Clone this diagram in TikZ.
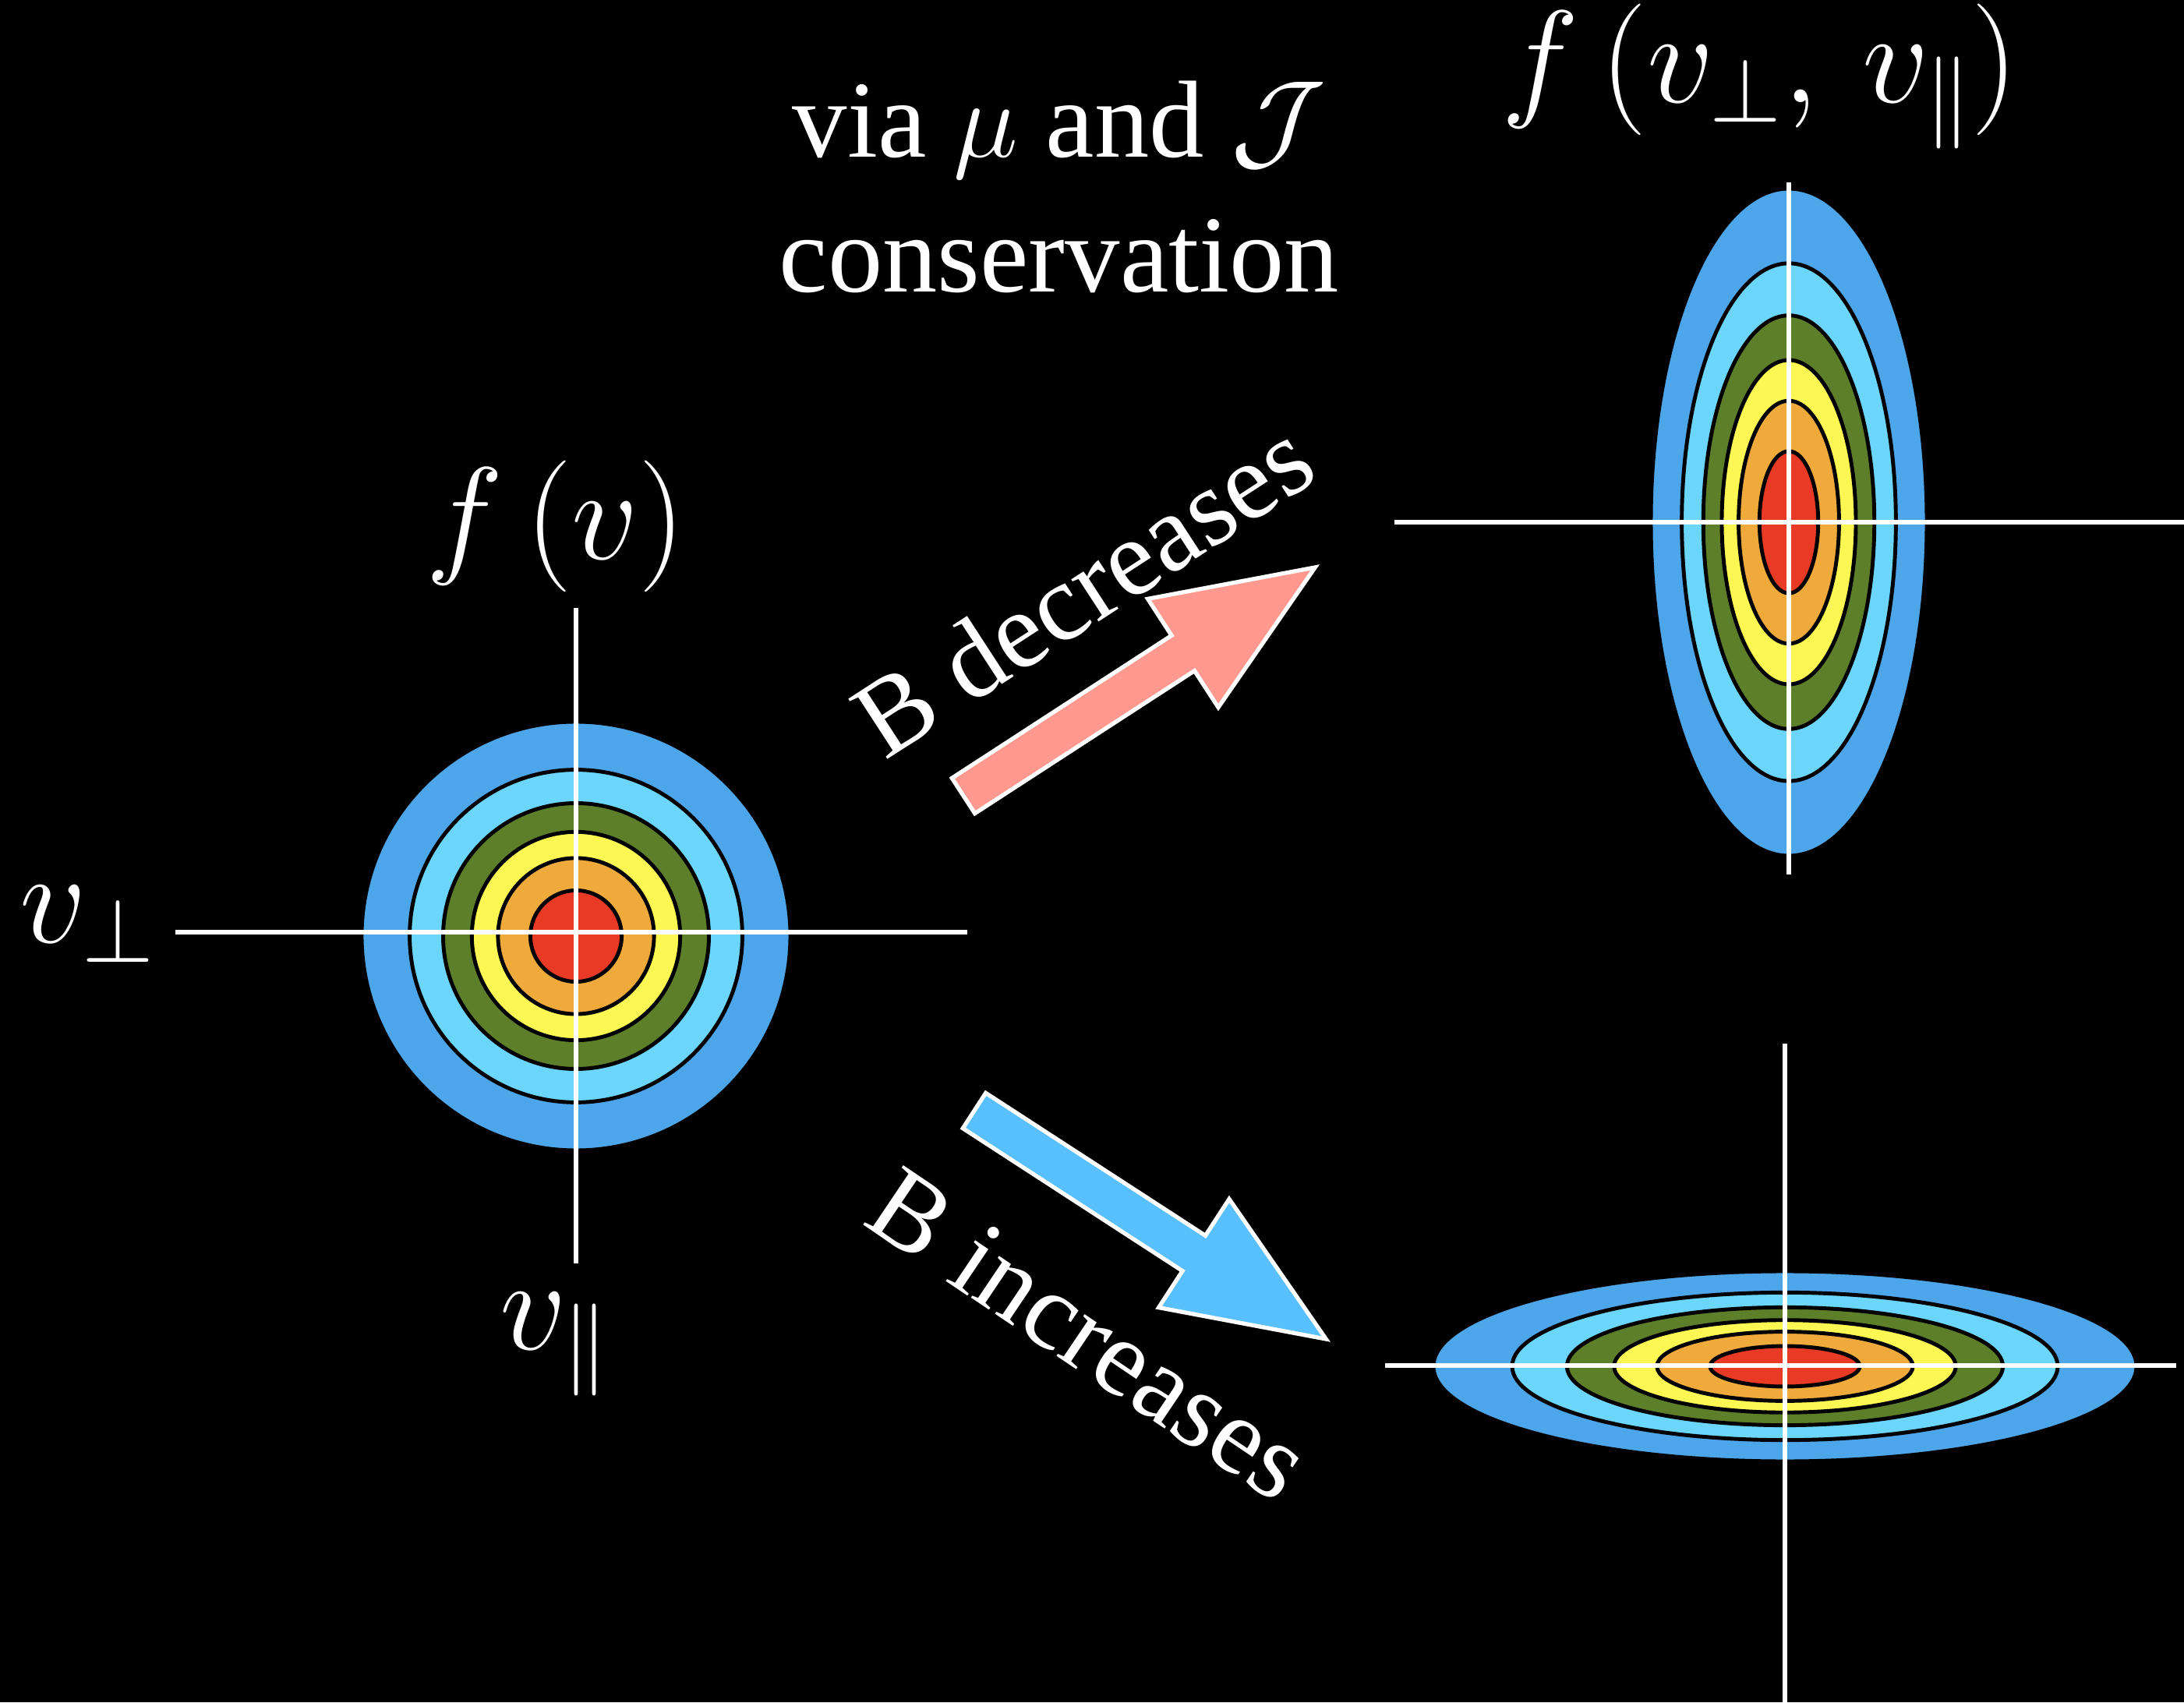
\RequirePackage{fix-cm}
\documentclass[tikz,border=0pt]{standalone}
\usepackage{amsmath,amssymb}
\usepackage{fontspec}
\setmainfont{Liberation Serif}
\usepackage{tikz}
\usetikzlibrary{positioning,calc}

\definecolor{ringA}{RGB}{76,166,233}
\definecolor{ringB}{RGB}{107,214,250}
\definecolor{ringC}{RGB}{94,127,42}
\definecolor{ringD}{RGB}{252,247,83}
\definecolor{ringE}{RGB}{240,170,60}
\definecolor{ringF}{RGB}{232,58,36}
\definecolor{decfill}{RGB}{255,153,143}
\definecolor{incfill}{RGB}{88,192,255}

\begin{document}
\begin{tikzpicture}[
        every node/.style={text=white, inner sep=0pt},
        lbl/.style={font=\fontsize{48}{52}\selectfont},
        txt/.style={font=\fontsize{40}{49}\selectfont, align=center},
        axis/.style={draw=white, line width=1.6pt},
        contour/.style={draw=black, line width=1.4pt},
        bigarrow/.style={draw=white, line width=1.5pt, line join=miter}
    ]
        \fill[black] (0,0) rectangle (28.02,21.84);
        \useasboundingbox (0,0) rectangle (28.02,21.84);

        % centres of the three distributions
        \coordinate (c0) at (7.39,9.83);
        \coordinate (cup) at (22.95,15.14);
        \coordinate (cdown) at (22.90,4.31);

        % isotropic f(v)
        \foreach \s/\c in {1/ringA,0.776/ringB,0.620/ringC,0.486/ringD,0.364/ringE,0.213/ringF}
            \filldraw[fill=\c, contour] (c0) circle [radius=\s*2.75];
        % stretched along v_par
        \foreach \s/\c in {1/ringA,0.776/ringB,0.620/ringC,0.486/ringD,0.364/ringE,0.213/ringF}
            \filldraw[fill=\c, contour] (cup) ellipse [x radius=\s*1.77, y radius=\s*4.28];
        % stretched along v_perp
        \foreach \s/\c in {1/ringA,0.776/ringB,0.620/ringC,0.486/ringD,0.364/ringE,0.213/ringF}
            \filldraw[fill=\c, contour] (cdown) ellipse [x radius=\s*4.51, y radius=\s*1.22];

        % axes
        \draw[axis] (2.25,9.88) -- (12.41,9.88);
        \draw[axis] (7.39,14.04) -- (7.39,5.63);
        \draw[axis] (17.89,15.14) -- (28.02,15.14);
        \draw[axis] (22.95,19.50) -- (22.95,10.62);
        \draw[axis] (17.77,4.32) -- (27.92,4.32);
        \draw[axis] (22.90,8.45) -- (22.90,0);

        % block arrows
        \filldraw[bigarrow, fill=decfill, shift={(12.36,11.63)}, rotate=33]
            (0,0.27) -- (3.36,0.27) -- (3.36,0.83) -- (5.38,0) -- (3.36,-0.83) -- (3.36,-0.27) -- (0,-0.27) -- cycle;
        \filldraw[bigarrow, fill=incfill, shift={(12.50,7.59)}, rotate=-33]
            (0,0.27) -- (3.36,0.27) -- (3.36,0.83) -- (5.38,0) -- (3.36,-0.83) -- (3.36,-0.27) -- (0,-0.27) -- cycle;

        % labels
        \node[lbl] (fv) at (7.13,15.09) {$f\,(v)$};
        \node[lbl] (vperp) at (1.12,9.98) {$v_{\perp}$};
        \node[lbl] (vpar) at (7.12,4.59) {$v_{\parallel}$};
        \node[lbl] (fvv) at (22.58,20.86) {$f\,(v_{\perp},\,v_{\parallel})$};
        \node[txt] (via) at (13.59,19.44) {via $\mu$ and $\mathcal{J}$\\conservation};
        \node[txt, rotate=33] (dec) at (13.89,14.30) {B decreases};
        \node[txt, rotate=-34] (inc) at (13.97,4.72) {B increases};
\end{tikzpicture}
\end{document}
